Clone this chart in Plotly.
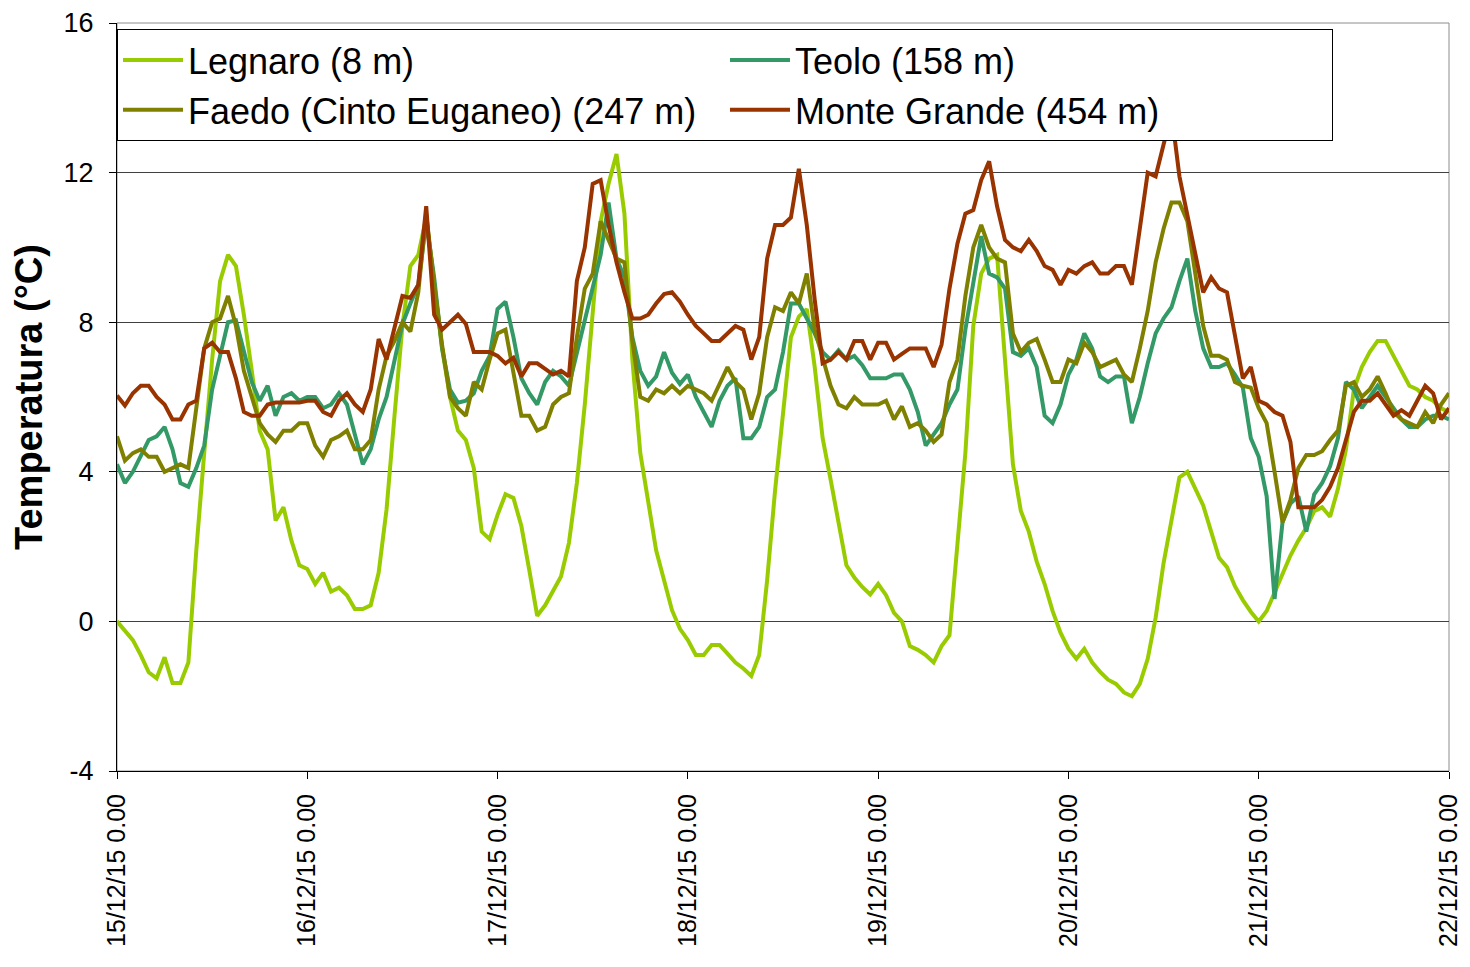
import pandas as pd
import plotly.graph_objects as go

# hourly readings, 15/12/15 0.00 -> 22/12/15 0.00
TIMES = pd.date_range("2015-12-15 00:00", "2015-12-22 00:00", freq="h")
DAY_TICKS = pd.date_range("2015-12-15", "2015-12-22", freq="D")
DAY_LABELS = [d.strftime("%d/%m/%y") + " 0.00" for d in DAY_TICKS]
Y_TICKS = [-4, 0, 4, 8, 12, 16]

LEGNARO = [
    0.0, -0.27, -0.5, -0.9, -1.36, -1.52, -0.96, -1.65, -1.65, -1.1, 1.9, 4.5,
    7.0, 9.1, 9.8, 9.5, 8.2, 6.7, 5.1, 4.6, 2.7, 3.05, 2.16, 1.5,
    1.4, 1.0, 1.3, 0.8, 0.9, 0.7, 0.33, 0.33, 0.43, 1.3, 3.0, 5.5,
    7.9, 9.5, 9.8, 10.8, 9.0, 7.3, 6.0, 5.1, 4.85, 4.1, 2.4, 2.2,
    2.85, 3.4, 3.3, 2.55, 1.37, 0.15, 0.43, 0.82, 1.2, 2.1, 3.7, 5.8,
    8.2, 10.7, 11.7, 12.5, 10.9, 7.0, 4.5, 3.2, 1.9, 1.1, 0.3, -0.2,
    -0.5, -0.9, -0.9, -0.63, -0.63, -0.86, -1.1, -1.26, -1.46, -0.9, 1.1, 3.5,
    5.6, 7.6, 8.15, 8.35, 6.8, 4.9, 3.8, 2.65, 1.5, 1.17, 0.92, 0.72,
    1.0, 0.7, 0.23, 0.0, -0.66, -0.76, -0.9, -1.1, -0.66, -0.37, 2.0, 4.5,
    7.9, 9.3, 9.7, 9.8, 7.0, 4.2, 2.95, 2.4, 1.6, 1.0, 0.28, -0.3,
    -0.73, -1.0, -0.73, -1.1, -1.35, -1.56, -1.67, -1.9, -2.0, -1.67, -1.0, 0.1,
    1.56, 2.7, 3.85, 4.0, 3.55, 3.1, 2.4, 1.7, 1.45, 0.94, 0.57, 0.26,
    0.0, 0.28, 0.77, 1.3, 1.76, 2.16, 2.5, 2.95, 3.05, 2.8, 3.55, 4.6,
    6.2, 6.8, 7.2, 7.5, 7.5, 7.1, 6.7, 6.3, 6.2, 6.0, 5.9, 5.7, 5.6,
]

TEOLO = [
    4.2, 3.7, 4.0, 4.4, 4.85, 4.95, 5.2, 4.6, 3.7, 3.6, 4.1, 4.7,
    6.2, 7.1, 8.0, 8.05, 7.2, 6.4, 5.9, 6.3, 5.5, 6.0, 6.1, 5.9,
    6.0, 6.0, 5.7, 5.8, 6.1, 5.8, 5.0, 4.2, 4.6, 5.4, 6.0, 7.0,
    7.95, 8.5, 9.0, 10.7, 9.2, 7.3, 6.2, 5.85, 5.9, 6.1, 6.7, 7.1,
    8.35, 8.55, 7.6, 6.5, 6.1, 5.8, 6.4, 6.7, 6.55, 6.3, 7.2, 8.0,
    8.9, 9.8, 11.2, 9.7, 9.2, 7.6, 6.7, 6.3, 6.55, 7.2, 6.65, 6.35,
    6.6, 6.0, 5.6, 5.2, 5.9, 6.3, 6.5, 4.9, 4.9, 5.2, 6.0, 6.2,
    7.2, 8.5, 8.5, 8.1, 7.7, 7.2, 7.0, 7.25, 7.0, 7.1, 6.85, 6.5,
    6.5, 6.5, 6.6, 6.6, 6.2, 5.6, 4.7, 5.0, 5.3, 5.8, 6.2, 7.8,
    9.0, 10.3, 9.3, 9.2, 8.9, 7.2, 7.1, 7.3, 6.8, 5.5, 5.3, 5.8,
    6.6, 7.0, 7.7, 7.3, 6.55, 6.4, 6.55, 6.55, 5.3, 6.0, 6.9, 7.7,
    8.1, 8.4, 9.1, 9.7, 8.3, 7.3, 6.8, 6.8, 6.9, 6.6, 6.25, 4.9,
    4.4, 3.35, 0.6, 2.65, 3.15, 3.35, 2.4, 3.4, 3.7, 4.15, 4.9, 6.4,
    6.2, 5.7, 6.0, 6.3, 6.0, 5.7, 5.4, 5.2, 5.2, 5.4, 5.5, 5.5, 5.4,
]

FAEDO = [
    4.95, 4.3, 4.5, 4.6, 4.4, 4.4, 4.0, 4.1, 4.2, 4.1, 5.8, 7.3,
    8.0, 8.1, 8.7, 7.9, 6.7, 6.0, 5.3, 5.0, 4.8, 5.1, 5.1, 5.3,
    5.3, 4.7, 4.4, 4.85, 4.95, 5.1, 4.6, 4.6, 4.85, 6.2, 7.1, 7.5,
    8.0, 7.75, 8.8, 10.9, 9.0, 7.4, 6.0, 5.7, 5.5, 6.4, 6.2, 7.0,
    7.7, 7.8, 6.7, 5.5, 5.5, 5.1, 5.2, 5.8, 6.0, 6.1, 7.6, 8.9,
    9.3, 10.7, 10.2, 9.7, 9.6, 7.5, 6.0, 5.9, 6.2, 6.1, 6.3, 6.1,
    6.3, 6.2, 6.1, 5.9, 6.35, 6.8, 6.4, 6.2, 5.4, 6.1, 7.6, 8.4,
    8.3, 8.8, 8.5, 9.3, 7.8, 7.0, 6.3, 5.8, 5.7, 6.0, 5.8, 5.8,
    5.8, 5.9, 5.4, 5.75, 5.2, 5.3, 5.1, 4.8, 5.0, 6.4, 7.0, 8.7,
    10.0, 10.6, 10.0, 9.7, 9.6, 7.7, 7.2, 7.45, 7.55, 7.0, 6.4, 6.4,
    7.0, 6.9, 7.45, 7.2, 6.8, 6.9, 7.0, 6.6, 6.4, 7.3, 8.3, 9.6,
    10.5, 11.2, 11.2, 10.7, 9.3, 7.9, 7.1, 7.1, 7.0, 6.4, 6.3, 6.25,
    5.7, 5.3, 4.0, 2.65, 3.25, 4.1, 4.45, 4.45, 4.55, 4.85, 5.1, 6.3,
    6.4, 6.0, 6.2, 6.55, 6.1, 5.6, 5.4, 5.3, 5.2, 5.6, 5.3, 5.8, 6.1,
]

MONTE_GRANDE = [
    6.04, 5.77, 6.1, 6.3, 6.3, 6.0, 5.8, 5.4, 5.4, 5.8, 5.9, 7.3,
    7.45, 7.2, 7.2, 6.5, 5.6, 5.5, 5.5, 5.8, 5.85, 5.85, 5.85, 5.85,
    5.9, 5.9, 5.6, 5.5, 5.9, 6.1, 5.8, 5.6, 6.2, 7.55, 7.0, 7.8,
    8.7, 8.65, 9.0, 11.1, 8.2, 7.8, 8.0, 8.2, 7.95, 7.2, 7.2, 7.2,
    7.1, 6.9, 7.05, 6.55, 6.9, 6.9, 6.75, 6.6, 6.7, 6.55, 9.1, 10.0,
    11.7, 11.8, 10.6, 9.6, 8.8, 8.1, 8.1, 8.2, 8.5, 8.75, 8.8, 8.55,
    8.2, 7.9, 7.7, 7.5, 7.5, 7.7, 7.9, 7.8, 7.0, 7.6, 9.7, 10.6,
    10.6, 10.8, 12.1, 10.6, 8.6, 6.9, 7.0, 7.2, 7.0, 7.5, 7.5, 7.0,
    7.45, 7.45, 7.0, 7.15, 7.3, 7.3, 7.3, 6.8, 7.4, 8.9, 10.1, 10.9,
    11.0, 11.8, 12.3, 11.1, 10.2, 10.0, 9.9, 10.2, 9.9, 9.5, 9.4, 9.0,
    9.4, 9.3, 9.5, 9.6, 9.3, 9.3, 9.5, 9.5, 9.0, 10.5, 12.0, 11.9,
    12.8, 13.6, 11.9, 10.9, 9.8, 8.8, 9.2, 8.9, 8.8, 7.7, 6.5, 6.8,
    5.9, 5.8, 5.6, 5.5, 4.8, 3.05, 3.05, 3.05, 3.25, 3.6, 4.1, 4.85,
    5.6, 5.9, 5.9, 6.1, 5.8, 5.5, 5.65, 5.5, 5.9, 6.3, 6.1, 5.4, 5.7,
]

SERIES = [
    ("Legnaro (8 m)", LEGNARO, "#99CC00"),
    ("Teolo (158 m)", TEOLO, "#339966"),
    ("Faedo (Cinto Euganeo) (247 m)", FAEDO, "#808000"),
    ("Monte Grande (454 m)", MONTE_GRANDE, "#993300"),
]

FONT = "Liberation Sans, Arial, sans-serif"

fig = go.Figure()
for name, values, color in SERIES:
    fig.add_trace(go.Scatter(
        x=TIMES, y=values, name=name, mode="lines",
        line=dict(color=color, width=4),
    ))

# grey plot-area frame (top / right), axes drawn black on left / bottom
fig.add_shape(type="rect", xref="paper", yref="paper", x0=0, x1=1, y0=0, y1=1,
              line=dict(color="#8c8c8c", width=1), layer="below")

# the page body adds 8px on every side, so the figure is kept 16px smaller
# than the window (no scrollbars) and the margins place the plot area
fig.update_layout(
    width=1454, height=951,
    margin=dict(l=109, r=13, t=15, b=188, autoexpand=False),
    paper_bgcolor="white", plot_bgcolor="white",
    font=dict(family=FONT, color="black"),
    showlegend=True,
    legend=dict(
        orientation="h", x=0, y=0.992, xanchor="left", yanchor="top",
        entrywidth=532, entrywidthmode="pixels", itemwidth=60,
        bgcolor="white", bordercolor="black", borderwidth=1,
        font=dict(size=36, family=FONT, color="black"),
        tracegroupgap=0,
    ),
)

fig.update_xaxes(
    range=[TIMES[0], TIMES[-1]], automargin=False,
    tickvals=DAY_TICKS, ticktext=DAY_LABELS, tickangle=-90,
    tickfont=dict(size=25), ticks="outside", ticklen=7, tickcolor="black",
    showline=True, linecolor="black", linewidth=1,
    showgrid=False, zeroline=False, ticklabelstandoff=5,
    ticklabeloverflow="allow",
)
fig.update_yaxes(
    range=[-4, 16], automargin=False,
    tickvals=Y_TICKS, ticktext=[str(v) for v in Y_TICKS],
    tickfont=dict(size=27), ticks="outside", ticklen=7, tickcolor="black",
    showline=True, linecolor="black", linewidth=1,
    showgrid=True, gridcolor="#404040", gridwidth=1, zeroline=False,
    ticklabelstandoff=10,
    title=dict(text="<b>Temperatura (°C)</b>", font=dict(size=38), standoff=12),
)

fig.write_html("out.html")
